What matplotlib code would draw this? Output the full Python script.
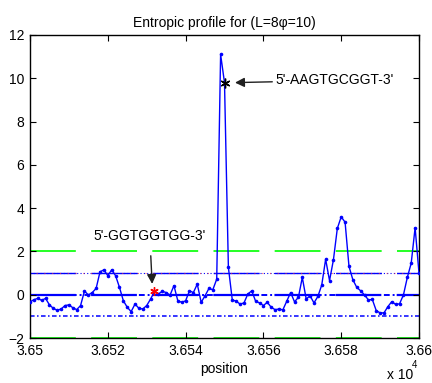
import numpy as np
import matplotlib
matplotlib.use("Agg")
import matplotlib.pyplot as plt

plt.rcParams['font.family'] = ['Liberation Sans', 'DejaVu Sans']
plt.rcParams['font.size'] = 10

# ---- data ----
positions = np.arange(36500, 36601)
entropy = [
    -0.33, -0.23, -0.17, -0.26, -0.17, -0.47, -0.63, -0.72, -0.66, -0.50,
    -0.47, -0.60, -0.69, -0.50, 0.17, -0.01, 0.10, 0.29, 1.06, 1.15,
    0.88, 1.15, 0.88, 0.34, -0.28, -0.58, -0.78, -0.43, -0.63, -0.66,
    -0.50, -0.20, 0.15, 0.03, 0.16, 0.10, -0.02, 0.42, -0.28, -0.35,
    -0.28, 0.18, 0.10, 0.49, -0.35, -0.05, 0.29, 0.23, 0.72, 11.10,
    9.80, 1.26, -0.24, -0.30, -0.43, -0.38, 0.03, 0.18, -0.30, -0.38,
    -0.50, -0.35, -0.58, -0.69, -0.66, -0.70, -0.30, 0.10, -0.33, -0.12,
    0.80, -0.20, -0.05, -0.38, -0.08, 0.45, 1.64, 0.65, 1.61, 3.06,
    3.60, 3.35, 1.31, 0.69, 0.34, 0.18, -0.01, -0.24, -0.22, -0.73,
    -0.84, -0.84, -0.55, -0.32, -0.45, -0.42, -0.01, 0.80, 1.46, 3.10,
    1.00,
]
green_levels = [2, -2]
blue_levels = [1, 0, -1]
red_star_index = 32
black_star_index = 50
label_low = "5'-GGTGGTGG-3'"
label_high = "5'-AAGTGCGGT-3'"
xtick_vals = [36500, 36520, 36540, 36560, 36580, 36600]
xtick_labels = ['3.65', '3.652', '3.654', '3.656', '3.658', '3.66']
ytick_vals = [-2, 0, 2, 4, 6, 8, 10, 12]

# ---- figure ----
fig = plt.figure(figsize=(4.32, 3.83), dpi=100)
ax = fig.add_axes([30/432, 1-338/383, 389/432, 303/383])

long_dash = (0, (33, 11))
for g in green_levels:
    ax.axhline(g, color='#00ff00', lw=1.2, linestyle=(0, (27.5, 9.2)), zorder=1)

# level +1: dashes aligned with the green ones, dotted in the gaps
ax.axhline(blue_levels[0], color='#0000ff', lw=1.0, linestyle=long_dash, zorder=1)
ax.axhline(blue_levels[0], color='#0000ff', lw=0.8, linestyle=(0, (1, 2)), zorder=1)
ax.axhline(blue_levels[0], color='#ff3030', lw=0.8, linestyle=(1.5, (1, 6)), zorder=1, alpha=0.7)
# level 0: thicker dashes with dash-dot in the gaps
ax.axhline(blue_levels[1], color='#0000ff', lw=1.6, linestyle=(0, (20.6, 6.9)), zorder=1)
ax.axhline(blue_levels[1], color='#0000ff', lw=1.4, linestyle=(0, (3, 1.5, 1, 1.5)), zorder=1)
# level -1: dash-dot pattern
ax.axhline(blue_levels[2], color='#0000ff', lw=1.1, linestyle=(0, (3, 1.6, 1, 1.6)), zorder=1)

ax.plot(positions, entropy, color='#0000ff', lw=1.0, marker='o',
        markersize=2.6, markeredgewidth=0, zorder=3)

ax.plot(positions[red_star_index], entropy[red_star_index], marker=(6, 2, 0),
        color='red', markersize=6, mew=1.0, zorder=4, linestyle='none')
ax.plot(positions[black_star_index], entropy[black_star_index], marker=(6, 2, 0),
        color='black', markersize=7, mew=1.0, zorder=4, linestyle='none')

# annotations
ax.annotate(label_high, xy=(positions[black_star_index] + 2.7, entropy[black_star_index]),
            xytext=(positions[black_star_index] + 13, entropy[black_star_index] + 0.1),
            ha='left', va='center', fontsize=10,
            arrowprops=dict(arrowstyle='-|>', color='#202020', lw=1.0,
                            mutation_scale=14, shrinkA=0, shrinkB=0))
ax.annotate(label_low, xy=(positions[red_star_index] - 0.6, entropy[red_star_index] + 0.35),
            xytext=(positions[red_star_index] - 1.2, 2.7),
            ha='center', va='center', fontsize=10,
            arrowprops=dict(arrowstyle='-|>', color='#202020', lw=1.0,
                            mutation_scale=14, shrinkA=7, shrinkB=0))

ax.set_xlim(36500, 36600)
ax.set_ylim(-2, 12)
ax.set_xticks(xtick_vals)
ax.set_xticklabels(xtick_labels)
ax.set_yticks(ytick_vals)
ax.tick_params(direction='in', length=4, width=0.8, top=True, right=True,
               labelsize=10, pad=4)
for s in ax.spines.values():
    s.set_linewidth(1.0)

ax.set_title('Entropic profile for (L=8φ=10)', fontsize=10, pad=6)
ax.set_xlabel('position', fontsize=10, labelpad=3)
fig.text(387/432, 1-375/383, 'x 10', fontsize=10, ha='left', va='center')
fig.text(412/432, 1-365/383, '4', fontsize=7, ha='left', va='center')

fig.savefig('out.png', dpi=100)
